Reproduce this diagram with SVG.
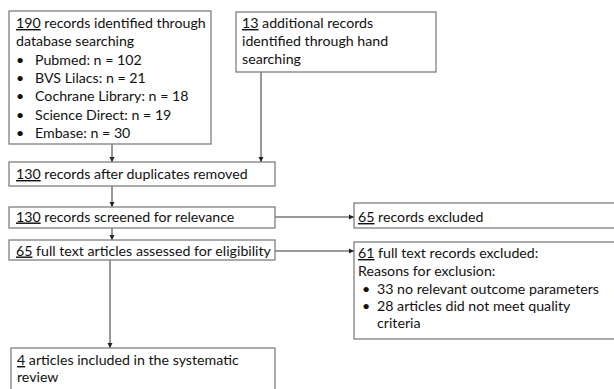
<svg xmlns="http://www.w3.org/2000/svg" width="614" height="389" viewBox="0 0 614 389">
<defs>
<marker id="ah" markerWidth="6" markerHeight="6" refX="5" refY="3" orient="auto" markerUnits="userSpaceOnUse">
<path d="M0,0.5 L5,3 L0,5.5 Z" fill="#222"/>
</marker>
<style>
.box{fill:#fff;stroke:#7f7f7f;stroke-width:1.3}
.t{font-family:Lato,"Liberation Sans",sans-serif;font-size:14.2px;fill:#111}
.u{text-decoration:underline}
.c{stroke:#333;stroke-width:1;fill:none;marker-end:url(#ah)}
</style>
</defs>
<rect width="614" height="389" fill="#fff"/>
<g id="connectors">
<line class="c" x1="112" y1="144" x2="112" y2="162"/>
<line class="c" x1="261" y1="72" x2="261" y2="162"/>
<line class="c" x1="112" y1="186" x2="112" y2="207"/>
<line class="c" x1="112" y1="228" x2="112" y2="240"/>
<line class="c" x1="275" y1="217" x2="354" y2="217"/>
<line class="c" x1="275" y1="251" x2="354" y2="251"/>
<line class="c" x1="110" y1="260" x2="110" y2="348"/>
</g>
<g id="n1">
<rect class="box" x="9" y="11" width="202" height="133"/>
<text class="t" x="16" y="28"><tspan class="u">190</tspan> records identified through</text>
<text class="t" x="16" y="46.3">database searching</text>
<text class="t" x="16" y="64.6">•<tspan x="35">Pubmed: n = 102</tspan></text>
<text class="t" x="16" y="83">•<tspan x="35">BVS Lilacs: n = 21</tspan></text>
<text class="t" x="16" y="101.3">•<tspan x="35">Cochrane Library: n = 18</tspan></text>
<text class="t" x="16" y="119.6">•<tspan x="35">Science Direct: n = 19</tspan></text>
<text class="t" x="16" y="138">•<tspan x="35">Embase: n = 30</tspan></text>
</g>
<g id="n2">
<rect class="box" x="236" y="12" width="200" height="60"/>
<text class="t" x="242" y="28"><tspan class="u">13</tspan> additional records</text>
<text class="t" x="242" y="46">identified through hand</text>
<text class="t" x="242" y="64">searching</text>
</g>
<g id="n3">
<rect class="box" x="9" y="162" width="266" height="24"/>
<text class="t" x="16" y="179"><tspan class="u">130</tspan> records after duplicates removed</text>
</g>
<g id="n4">
<rect class="box" x="9" y="207" width="266" height="21"/>
<text class="t" x="16" y="221.5"><tspan class="u">130</tspan> records screened for relevance</text>
</g>
<g id="n5">
<rect class="box" x="9" y="240" width="266" height="20"/>
<text class="t" x="16" y="255.5"><tspan class="u">65</tspan> full text articles assessed for eligibility</text>
</g>
<g id="n6">
<rect class="box" x="354" y="203" width="262" height="25"/>
<text class="t" x="358" y="222"><tspan class="u">65</tspan> records excluded</text>
</g>
<g id="n7">
<rect class="box" x="354" y="242" width="262" height="97"/>
<text class="t" x="358" y="258"><tspan class="u">61</tspan> full text records excluded:</text>
<text class="t" x="358" y="276">Reasons for exclusion:</text>
<text class="t" x="362" y="294">•<tspan x="377">33 no relevant outcome parameters</tspan></text>
<text class="t" x="362" y="311">•<tspan x="377">28 articles did not meet quality</tspan></text>
<text class="t" x="377" y="328">criteria</text>
</g>
<g id="n8">
<rect class="box" x="11" y="348" width="264" height="50"/>
<text class="t" x="17" y="365"><tspan class="u">4</tspan> articles included in the systematic</text>
<text class="t" x="17" y="382">review</text>
</g>
</svg>
